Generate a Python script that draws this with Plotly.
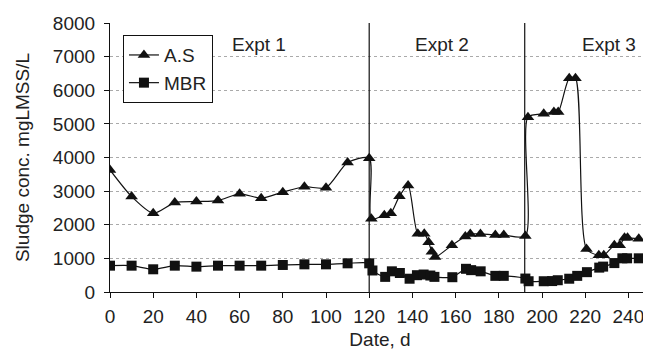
import plotly.graph_objects as go

as_days = [0, 10, 20, 30, 40, 50, 60, 70, 80, 90, 100, 110, 120, 121, 127, 130, 134, 138,
           142.5, 145.5, 147.5, 149, 150.5, 158.3, 164.5, 166.8, 171.5, 178.4, 182.3, 192.3,
           193.5, 200.8, 205.5, 207.5, 212.6, 215.5, 220.6, 226.3, 228.6, 233.5, 236, 238.2,
           239.6, 244.8]
as_vals = [3630, 2840, 2340, 2660, 2690, 2720, 2920, 2790, 2970, 3130, 3100, 3850, 3980, 2180,
           2280, 2340, 2850, 3170, 1730, 1730, 1480, 1200, 1040, 1390, 1650, 1726, 1726, 1696,
           1696, 1667, 5200, 5300, 5350, 5350, 6360, 6360, 1280, 1090, 1090, 1390, 1390, 1610,
           1610, 1580]

mbr_days = [0, 10, 20, 30, 40, 50, 60, 70, 80, 90, 100, 110, 120, 121.5, 127.4, 130.5, 134.2,
            138.7, 142.1, 145.2, 148.3, 150.2, 158.5, 164.8, 167.2, 171.6, 178.4, 182.3, 192.3,
            193.8, 200.8, 204.7, 207.3, 212.6, 216.3, 220.8, 226.5, 228.3, 233.5, 237.2, 239.4,
            244.8]
mbr_vals = [783, 783, 675, 783, 754, 783, 783, 783, 804, 823, 823, 853, 853, 640, 450, 615,
            565, 395, 500, 520, 490, 450, 440, 690, 650, 615, 480, 480, 400, 320, 320, 325,
            350, 395, 480, 590, 725, 755, 860, 1002, 1002, 1002]

phase_bounds = [120, 192]
phase_labels = ["Expt 1", "Expt 2", "Expt 3"]
phase_label_x = [69, 153.5, 231]
phase_label_y = 7350

x_ticks = list(range(0, 241, 20))
y_ticks = list(range(0, 8001, 1000))

font_family = "Liberation Sans, Arial, sans-serif"
txt = "#222222"
FS = 19

fig = go.Figure()
fig.add_trace(go.Scatter(
    x=as_days, y=as_vals, name="A.S", mode="lines+markers",
    line=dict(color="#111111", width=1.2, shape="spline", smoothing=0.7),
    marker=dict(symbol="triangle-up", size=11, color="#111111"),
))
fig.add_trace(go.Scatter(
    x=mbr_days, y=mbr_vals, name="MBR", mode="lines+markers",
    line=dict(color="#111111", width=1.2, shape="spline", smoothing=0.7),
    marker=dict(symbol="square", size=10, color="#111111"),
))

for b in phase_bounds:
    fig.add_shape(type="line", xref="x", yref="y", x0=b, x1=b, y0=0, y1=8000,
                  line=dict(color="#111111", width=1.2))

for lbl, lx in zip(phase_labels, phase_label_x):
    fig.add_annotation(x=lx, y=phase_label_y, text=lbl, showarrow=False,
                       font=dict(size=FS, color=txt, family=font_family))

# page body has an 8px default margin, so size/margins are shifted by 8px
fig.update_layout(
    width=643, height=348,
    margin=dict(l=102, r=1, t=15, b=64, autoexpand=False),
    paper_bgcolor="white", plot_bgcolor="white",
    font=dict(family=font_family, size=FS, color=txt),
    showlegend=True,
    legend=dict(x=0.024, y=0.955, xanchor="left", yanchor="top",
                bordercolor="#111111", borderwidth=1, bgcolor="white",
                font=dict(size=FS, color=txt), tracegroupgap=0, itemwidth=30),
    xaxis=dict(range=[0, 250], tickmode="array", tickvals=x_ticks,
               showgrid=False, zeroline=False, showline=True, linecolor="#111111",
               linewidth=1.2, ticks="outside", ticklen=5, tickcolor="#111111",
               ticklabelstandoff=2,
               title=dict(text="Date, d", font=dict(size=FS, color=txt), standoff=6),
               tickfont=dict(size=FS, color=txt)),
    yaxis=dict(range=[0, 8000], tickmode="array", tickvals=y_ticks,
               showgrid=True, gridcolor="#aaaaaa", griddash="dot", gridwidth=1,
               zeroline=False, showline=True, linecolor="#111111", linewidth=1.2,
               ticks="outside", ticklen=5, tickcolor="#111111",
               ticklabelstandoff=5,
               title=dict(text="Sludge conc. mgLMSS/L", font=dict(size=FS, color=txt), standoff=18),
               tickfont=dict(size=FS, color=txt)),
)

fig.write_html("out.html")
